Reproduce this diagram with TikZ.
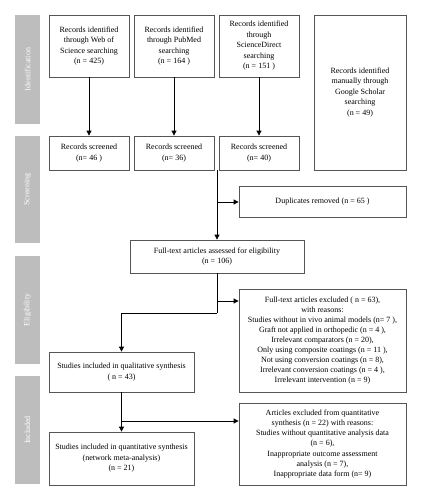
\documentclass[tikz,border=0pt]{standalone}
\usepackage{fontspec}
\setmainfont{Liberation Serif}
\usetikzlibrary{arrows.meta}
\definecolor{bargray}{HTML}{BDBDBD}
\definecolor{boxline}{HTML}{555555}
\begin{document}
\begin{tikzpicture}[x=1pt,y=-1pt,
  box/.style={draw=boxline, line width=0.8pt, fill=white, align=center, inner sep=2pt,
    font=\fontsize{8}{10.5}\selectfont},
  bar/.style={fill=bargray, minimum width=25pt, text=white, rotate=90,
    font=\fontsize{8}{9}\selectfont},
  conn/.style={line width=0.8pt, -{Triangle[length=5pt,width=5pt]}},
  line/.style={line width=0.8pt}]
\useasboundingbox (0,0) rectangle (421,500);
% side bars
\node[bar, minimum width=109pt, minimum height=25pt] (bid) at (27.5,69.5) {Identification};
\node[bar, minimum width=107pt, minimum height=25pt] (bsc) at (27.5,189.5) {Screening};
\node[bar, minimum width=108pt, minimum height=25pt] (bel) at (27.5,310) {Eligibility};
\node[bar, minimum width=108pt, minimum height=25pt] (bin) at (27.5,430) {Included};
% identification
\node[box, minimum width=80pt, minimum height=62pt] (wos) at (89,46) {Records identified\\through Web of\\Science searching\\(n = 425)};
\node[box, minimum width=80pt, minimum height=62pt] (pm) at (174,46) {Records identified\\through PubMed\\searching\\(n = 164 )};
\node[box, minimum width=80pt, minimum height=62pt] (sd) at (259,46) {Records identified\\through\\ScienceDirect\\searching\\(n = 151 )};
\node[box, minimum width=92pt, minimum height=155pt] (gs) at (360,92.5) {Records identified\\manually through\\Google Scholar\\searching\\(n = 49)};
% screened
\node[box, minimum width=80pt, minimum height=34pt] (wos2) at (89,153) {Records screened\\(n= 46 )};
\node[box, minimum width=80pt, minimum height=34pt] (pm2) at (174,153) {Records screened\\(n= 36)};
\node[box, minimum width=80pt, minimum height=34pt] (sd2) at (259,153) {Records screened\\(n= 40)};
\node[box, minimum width=167pt, minimum height=31pt] (dup) at (322.5,201.5) {Duplicates removed (n = 65 )};
\node[box, minimum width=174pt, minimum height=33pt] (ft) at (217,256.5) {Full-text articles assessed for eligibility\\(n = 106)};
\node[box, minimum width=167pt, minimum height=103pt, font=\fontsize{8}{10.1}\selectfont] (ex) at (322.5,340.5) {Full-text articles excluded ( n = 63),\\with reasons:\\Studies without in vivo animal models (n= 7 ),\\Graft not applied in orthopedic (n = 4 ),\\Irrelevant comparators (n = 20),\\Only using composite coatings (n = 11 ),\\Not using conversion coatings (n = 8),\\Irrelevant conversion coatings (n = 4 ),\\Irrelevant intervention (n = 9)};
\node[box, minimum width=145pt, minimum height=40pt] (ql) at (121.5,372) {Studies included in qualitative synthesis\\( n = 43)};
\node[box, minimum width=167pt, minimum height=82pt, font=\fontsize{8}{10.1}\selectfont] (ex2) at (322.5,444) {Articles excluded from quantitative\\synthesis (n = 22) with reasons:\\Studies without quantitative analysis data\\(n = 6),\\Inappropriate outcome assessment\\analysis (n = 7),\\Inappropriate data form (n= 9)};
\node[box, minimum width=145pt, minimum height=53pt] (qn) at (121.5,458.5) {Studies included in quantitative synthesis\\(network meta-analysis)\\(n = 21)};
% connectors
\draw[conn] (wos) -- (wos2);
\draw[conn] (pm) -- (pm2);
\draw[conn] (sd) -- (sd2);
\coordinate (m0) at (217,170);
\coordinate (m1) at (217,202);
\draw[conn] (m0) -- (ft.north);
\draw[conn] (m1) -- (dup.west |- m1);
\coordinate (f1) at (217,301);
\coordinate (f2) at (217,313);
\draw[line] (ft.south) -- (f2);
\draw[conn] (f2) -| (ql.north);
\draw[conn] (f1) -- (ex.west |- f1);
\coordinate (q1) at (121.5,421);
\draw[conn] (ql.south) -- (qn.north);
\draw[conn] (q1) -- (ex2.west |- q1);
\end{tikzpicture}
\end{document}
